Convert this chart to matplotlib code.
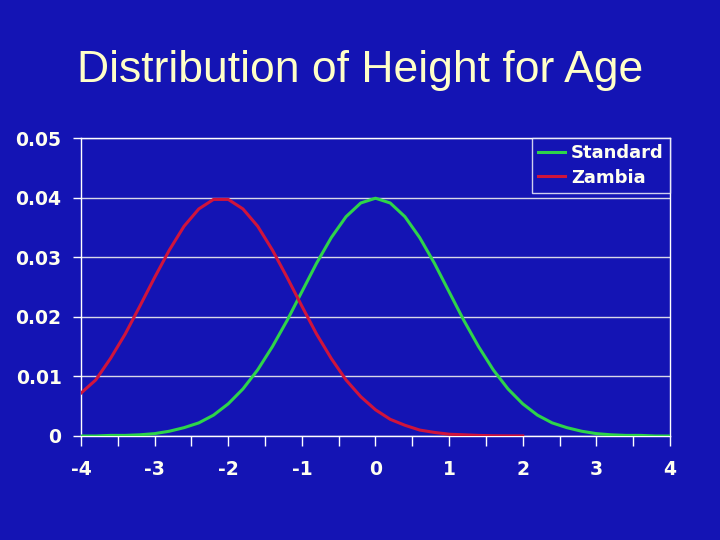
import numpy as np
from matplotlib import pyplot as plt
from matplotlib.ticker import MultipleLocator

# Standard curve, read at steps of 0.2 from -4 to 4
std_x = [round(-4 + 0.2 * i, 1) for i in range(41)]
std_y = [0.0000, 0.0000, 0.0001, 0.0001, 0.0002, 0.0004, 0.0008, 0.0014, 0.0022, 0.0035,
         0.0054, 0.0079, 0.0111, 0.0150, 0.0194, 0.0242, 0.0290, 0.0333, 0.0368, 0.0391,
         0.0399,
         0.0391, 0.0368, 0.0333, 0.0290, 0.0242, 0.0194, 0.0150, 0.0111, 0.0079, 0.0054,
         0.0035, 0.0022, 0.0014, 0.0008, 0.0004, 0.0002, 0.0001, 0.0001, 0.0000, 0.0000]

# Zambia curve, read at steps of 0.2 from -4 to 2
zam_x = [round(-4 + 0.2 * i, 1) for i in range(31)]
zam_y = [0.0072, 0.0094, 0.0130, 0.0171, 0.0218, 0.0266, 0.0312, 0.0352, 0.0381, 0.0397,
         0.0397, 0.0381, 0.0352, 0.0312, 0.0266, 0.0218, 0.0171, 0.0130, 0.0094, 0.0066,
         0.0044, 0.0028, 0.0018, 0.0010, 0.0006, 0.0003, 0.0002, 0.0001, 0.00004, 0.00002,
         0.00001]

x_ticks = [-4, -3, -2, -1, 0, 1, 2, 3, 4]
y_ticks = [0, 0.01, 0.02, 0.03, 0.04, 0.05]
y_labels = ['0', '0.01', '0.02', '0.03', '0.04', '0.05']

bg = '#1414b4'
fig = plt.figure(figsize=(7.2, 5.4), dpi=100, facecolor=bg)
ax = fig.add_axes([0.1125, 0.1926, 0.818, 0.5518], facecolor=bg)

ax.plot(std_x, std_y, color='#2ed44a', lw=2.2, label='Standard', zorder=3)
ax.plot(zam_x, zam_y, color='#d0143c', lw=2.2, label='Zambia', zorder=3)

ax.set_xlim(-4, 4)
ax.set_ylim(0, 0.05)
ax.set_xticks(x_ticks)
ax.set_xticklabels([str(t) for t in x_ticks])
ax.xaxis.set_minor_locator(MultipleLocator(0.5))
ax.set_yticks(y_ticks)
ax.set_yticklabels(y_labels)
ax.yaxis.grid(True, color='#d8d8e8', lw=1)
ax.set_axisbelow(True)

for s in ax.spines.values():
    s.set_color('white')
    s.set_linewidth(1)

ax.tick_params(axis='both', which='both', colors='white', direction='out', width=1)
ax.tick_params(axis='x', which='both', length=7, pad=10)
ax.tick_params(axis='y', length=6, pad=8)
for lbl in ax.get_xticklabels() + ax.get_yticklabels():
    lbl.set_fontweight('bold')
    lbl.set_fontsize(13.5)
    lbl.set_color('#fffff0')

leg = ax.legend(loc='upper right', borderaxespad=0, frameon=True, fancybox=False,
                prop={'weight': 'bold', 'size': 13}, handlelength=1.5, handletextpad=0.3,
                labelspacing=0.35, borderpad=0.35)
leg.get_frame().set_facecolor(bg)
leg.get_frame().set_edgecolor('white')
leg.get_frame().set_linewidth(1)
for t in leg.get_texts():
    t.set_color('#fffff0')

fig.text(0.5, 0.87, 'Distribution of Height for Age', ha='center', va='center',
         fontsize=32, color='#ffffc8', family='Liberation Sans')

fig.savefig('out.png', dpi=100, facecolor=bg)
